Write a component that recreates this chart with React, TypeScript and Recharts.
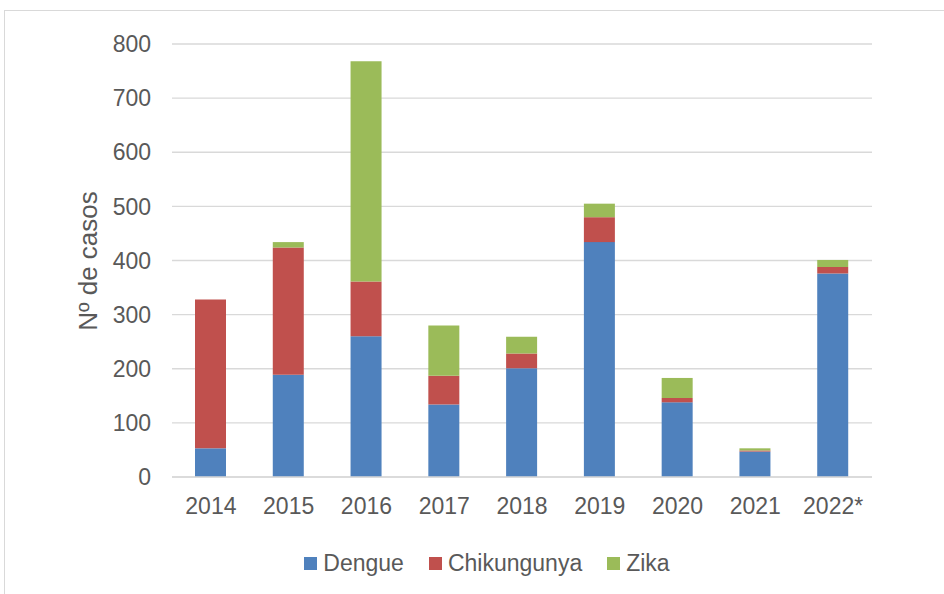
import { BarChart, Bar, XAxis, YAxis, CartesianGrid } from "recharts";

const years = ["2014", "2015", "2016", "2017", "2018", "2019", "2020", "2021", "2022*"];
const dengue = [53, 189, 260, 134, 201, 434, 138, 47, 376];
const chikungunya = [275, 235, 101, 53, 27, 46, 8, 2, 12];
const zika = [0, 10, 407, 93, 31, 25, 37, 4, 13];
const yTicks = [0, 100, 200, 300, 400, 500, 600, 700, 800];

const series = [
  { key: "dengue", name: "Dengue", color: "#4F81BD" },
  { key: "chikungunya", name: "Chikungunya", color: "#C0504D" },
  { key: "zika", name: "Zika", color: "#9BBB59" },
];

const data = years.map((year, i) => ({
  year,
  dengue: dengue[i],
  chikungunya: chikungunya[i],
  zika: zika[i],
}));

const font = '"Liberation Sans", Arial, sans-serif';
const textColor = "#595959";
const gridColor = "#d9d9d9";

function Legend() {
  return (
    <div
      style={{
        position: "absolute",
        left: 0,
        top: 550,
        width: 974,
        display: "flex",
        justifyContent: "center",
        fontFamily: font,
        fontSize: 23,
        color: textColor,
      }}
    >
      {series.map((s, i) => (
        <div
          key={s.key}
          style={{ display: "flex", alignItems: "center", marginRight: i < series.length - 1 ? 25 : 0 }}
        >
          <span style={{ width: 13, height: 13, background: s.color, marginRight: 6, display: "inline-block" }} />
          <span>{s.name}</span>
        </div>
      ))}
    </div>
  );
}

export default function App() {
  return (
    <div style={{ position: "absolute", left: 0, top: 0, width: 944, height: 594, overflow: "hidden", background: "#fff" }}>
      <div
        style={{
          position: "absolute",
          left: 4,
          top: 10,
          width: 960,
          height: 600,
          border: `1px solid ${gridColor}`,
        }}
      />
      <BarChart
        width={944}
        height={594}
        data={data}
        margin={{ top: 44, right: 72, left: 0, bottom: 77 }}
        barSize={31}
      >
        <CartesianGrid vertical={false} stroke={gridColor} strokeWidth={1.3} />
        <XAxis
          dataKey="year"
          height={40}
          tickLine={false}
          axisLine={{ stroke: gridColor, strokeWidth: 1.3 }}
          tickMargin={15}
          tick={{ fontSize: 23, fill: textColor, fontFamily: font }}
        />
        <YAxis
          width={172}
          domain={[0, 800]}
          ticks={yTicks}
          tickLine={false}
          axisLine={false}
          tickMargin={15}
          tick={{ fontSize: 23, fill: textColor, fontFamily: font }}
          label={{
            content: () => (
              <text
                x={88}
                y={261}
                transform="rotate(-90 88 261)"
                textAnchor="middle"
                dominantBaseline="central"
                fontSize={26}
                fill={textColor}
                fontFamily={font}
              >
                Nº de casos
              </text>
            ),
          }}
        />
        {series.map((s) => (
          <Bar key={s.key} dataKey={s.key} name={s.name} stackId="a" fill={s.color} isAnimationActive={false} />
        ))}
      </BarChart>
      <Legend />
    </div>
  );
}
